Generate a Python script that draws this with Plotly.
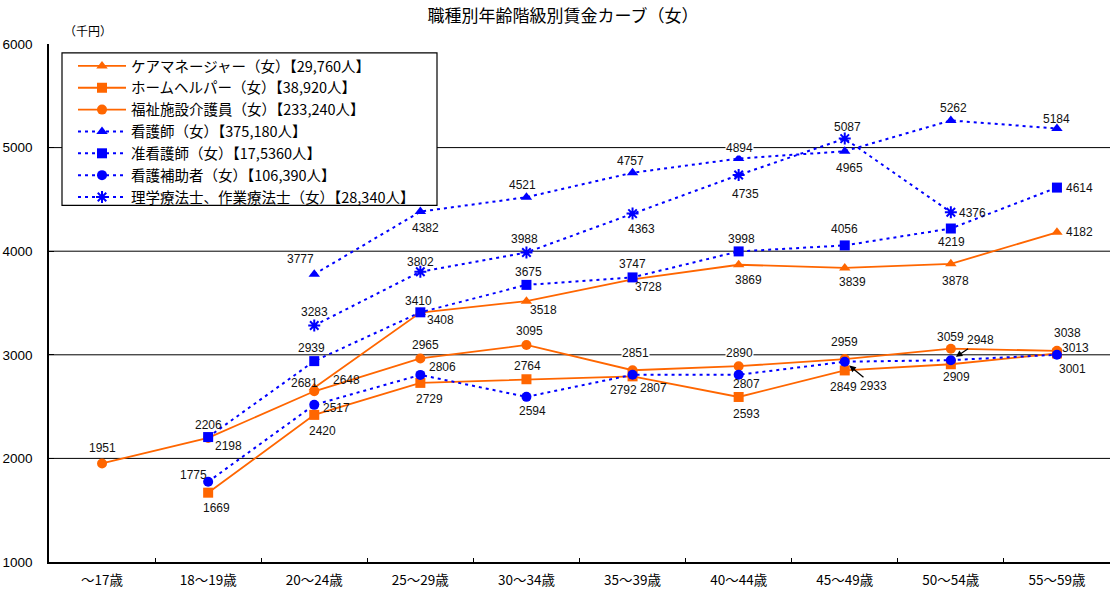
import plotly.graph_objects as go

# Age brackets (x categories)
age_groups = ["～17歳", "18～19歳", "20～24歳", "25～29歳", "30～34歳",
              "35～39歳", "40～44歳", "45～49歳", "50～54歳", "55～59歳"]

# Monthly-wage curves by occupation, women (thousand yen)
care_manager = [None, None, 2681, 3408, 3518, 3728, 3869, 3839, 3878, 4182]
home_helper = [None, 1669, 2420, 2729, 2764, 2792, 2593, 2849, 2909, 3013]
care_worker = [1951, 2198, 2648, 2965, 3095, 2851, 2890, 2959, 3059, 3038]
nurse = [None, None, 3777, 4382, 4521, 4757, 4894, 4965, 5262, 5184]
assistant_nurse = [None, 2206, 2939, 3410, 3675, 3747, 3998, 4056, 4219, 4614]
nursing_aide = [None, 1775, 2517, 2806, 2594, 2807, 2807, 2933, 2948, 3001]
therapist = [None, None, 3283, 3802, 3988, 4363, 4735, 5087, 4376, None]

series_names = [
    "ケアマネージャー（女）【29,760人】",
    "ホームヘルパー（女）【38,920人】",
    "福祉施設介護員（女）【233,240人】",
    "看護師（女）【375,180人】",
    "准看護師（女）【17,5360人】",
    "看護補助者（女）【106,390人】",
    "理学療法士、作業療法士（女）【28,340人】",
]

y_ticks = [1000, 2000, 3000, 4000, 5000, 6000]
grid_values = [2000, 3000, 4000, 5000]

ORANGE = "#FF6600"
BLUE = "#0000FF"
NUM_FONT = "Liberation Sans, Arial, Noto Sans CJK JP"
JP_FONT = "Noto Sans CJK JP, Liberation Sans"

# plot-area geometry in pixels (used to place the legend frame and unit label)
PLOT_L, PLOT_W = 49, 1061
PLOT_T, PLOT_H = 44, 520


def px_x(px):
    return (px - PLOT_L) / PLOT_W


def px_y(py):
    return (PLOT_T + PLOT_H - py) / PLOT_H


# per-series look: (values, colour, dash, marker symbol, marker size)
styles = [
    (care_manager, ORANGE, "solid", "triangle-up", 10),
    (home_helper, ORANGE, "solid", "square", 10),
    (care_worker, ORANGE, "solid", "circle", 10),
    (nurse, BLUE, "3px,4px", "triangle-up", 10),
    (assistant_nurse, BLUE, "3px,4px", "square", 10),
    (nursing_aide, BLUE, "3px,4px", "circle", 10),
    (therapist, BLUE, "3px,4px", "asterisk-open", 10),
]

# value-label offsets in pixels (dx right, dy down) for each point
label_offsets = [
    [None, None, (-10, -5), (20, 7), (17, 9), (16, 8), (10, 15), (8, 14), (5, 17), (23, 0)],
    [None, (8, 15), (8, 16), (9, 16), (1, -13), (-9, 14), (8, 17), (-1, 17), (6, 13), (19, -5)],
    [(0, -15), (20, 8), (32, -11), (5, -13), (3, -14), (3, -17), (1, -13), (0, -17), (0, -12), (11, -18)],
    [None, None, (-14, -15), (5, 16), (-4, -12), (-2, -12), (1, -11), (5, 17), (3, -12), (0, -10)],
    [None, (0, -12), (-3, -13), (-2, -11), (2, -13), (0, -13), (3, -12), (0, -16), (1, 13), (23, 0)],
    [None, (-15, -7), (22, 3), (22, -8), (6, 14), (21, 13), (8, 9), (29, 24), (30, -20), (16, 14)],
    [None, None, (0, -13), (0, -10), (-2, -13), (9, 15), (7, 19), (3, -12), (22, 1), None],
]
# labels tied to their point with a leader arrow
arrow_labels = {(5, 7), (5, 8)}
# labels sitting on a gridline get a white backing
backed_labels = {(2, 5), (2, 6), (3, 6)}

fig = go.Figure()

for i, (vals, color, dash, symbol, msize) in enumerate(styles):
    marker = dict(symbol=symbol, size=msize, color=color)
    if symbol == "asterisk-open":
        marker["line"] = dict(color=color, width=2)
    fig.add_trace(go.Scatter(
        x=age_groups, y=vals, name=series_names[i],
        mode="lines+markers",
        line=dict(color=color, width=2 if color == BLUE else 1.8, dash=dash),
        marker=marker,
        legendgroup=f"g{i}",
    ))

annotations = []
for i, (vals, *_rest) in enumerate(styles):
    for j, v in enumerate(vals):
        if v is None:
            continue
        dx, dy = label_offsets[i][j]
        common = dict(x=age_groups[j], y=v, xref="x", yref="y", text=str(v),
                      font=dict(family=NUM_FONT, size=12, color="#111111"))
        if (i, j) in arrow_labels:
            annotations.append(dict(**common, showarrow=True, ax=dx, ay=dy,
                                    arrowhead=2, arrowsize=1, arrowwidth=1.3,
                                    arrowcolor="black", standoff=6))
        else:
            extra = dict(bgcolor="white", borderpad=0) if (i, j) in backed_labels else {}
            annotations.append(dict(**common, showarrow=False, xshift=dx, yshift=-dy,
                                    xanchor="center", yanchor="middle", **extra))

# unit label above the value axis
annotations.append(dict(x=px_x(88), y=px_y(30), xref="paper", yref="paper",
                        text="（千円）", showarrow=False, xanchor="center", yanchor="middle",
                        font=dict(family=JP_FONT, size=12, color="black")))

shapes = [dict(type="line", xref="paper", yref="y", x0=0, x1=1, y0=g, y1=g,
               line=dict(color="black", width=1), layer="below") for g in grid_values]
# legend frame (opaque, hides the gridline behind it)
shapes.append(dict(type="rect", xref="paper", yref="paper",
                   x0=px_x(62), x1=px_x(437), y0=px_y(206), y1=px_y(53),
                   fillcolor="white", line=dict(color="black", width=1.2), layer="below"))

fig.update_layout(
    width=1110, height=589,
    margin=dict(l=PLOT_L, r=0, t=PLOT_T, b=25),
    paper_bgcolor="white", plot_bgcolor="white",
    title=dict(text="職種別年齢階級別賃金カーブ（女）", x=563 / 1110, xanchor="center",
               y=1 - 16 / 589, yanchor="middle", yref="container",
               font=dict(family=JP_FONT, size=17, color="black")),
    legend=dict(x=px_x(73), y=px_y(50), xanchor="left", yanchor="top",
                bgcolor="rgba(0,0,0,0)", borderwidth=0,
                font=dict(family=JP_FONT, size=14.5, color="black"),
                itemwidth=48, tracegroupgap=0),
    annotations=annotations,
    shapes=shapes,
    showlegend=True,
)

fig.update_xaxes(type="category", range=[-0.5, 9.5], showline=True, linecolor="black",
                 linewidth=1.5, ticks="inside", ticklen=4, tickcolor="black",
                 tickson="boundaries", showgrid=False, zeroline=False,
                 tickfont=dict(family=JP_FONT, size=13.5, color="black"),
                 ticklabelstandoff=5)
fig.update_yaxes(range=[1000, 6000], tickvals=y_ticks, showline=True, linecolor="black",
                 linewidth=1.5, ticks="inside", ticklen=5, tickcolor="black",
                 showgrid=False, zeroline=False,
                 tickfont=dict(family=NUM_FONT, size=13.5, color="black"),
                 ticklabelstandoff=12)

fig.write_html("out.html")
